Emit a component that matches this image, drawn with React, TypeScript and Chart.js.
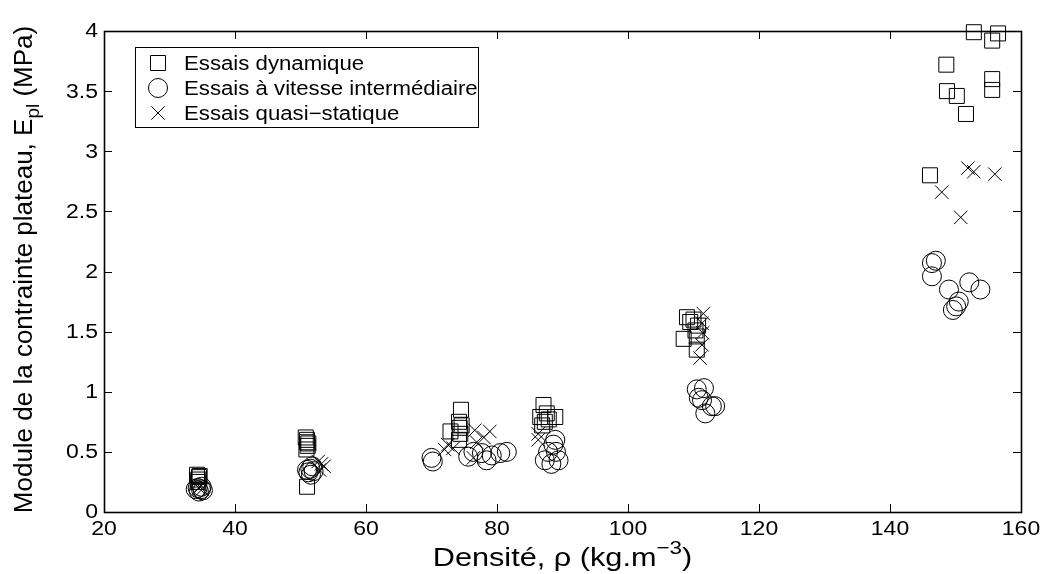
import React, { useEffect, useRef } from "react";
import { Chart, registerables } from "chart.js";

Chart.register(...registerables);

const xTicks = [20, 40, 60, 80, 100, 120, 140, 160];
const yTicks = [0, 0.5, 1, 1.5, 2, 2.5, 3, 3.5, 4];

const legendLabels = ["Essais dynamique", "Essais à vitesse intermédiaire", "Essais quasi\u2212statique"];

const dynX = [34.2, 34.5, 34.4, 34.6, 34.3, 50.8, 51.0, 51.1, 50.9, 51.0, 51.2, 51.0, 74.5, 74.2, 74.3, 72.9, 74.4, 74.2, 74.6, 87.1, 87.6, 88.9, 86.6, 87.3, 87.9, 86.9, 109.0, 110.0, 110.7, 108.5, 110.5, 110.5, 110.3, 109.5, 146.1, 148.6, 148.7, 150.2, 151.6, 152.8, 155.6, 156.5, 155.6, 155.6];
const dynY = [0.31, 0.29, 0.27, 0.30, 0.25, 0.62, 0.58, 0.55, 0.52, 0.60, 0.57, 0.21, 0.85, 0.75, 0.70, 0.67, 0.65, 0.60, 0.72, 0.89, 0.82, 0.79, 0.79, 0.75, 0.77, 0.72, 1.62, 1.60, 1.55, 1.44, 1.46, 1.35, 1.51, 1.58, 2.80, 3.72, 3.50, 3.46, 3.31, 3.99, 3.92, 3.98, 3.60, 3.51];

const intX = [34.3, 34.8, 35.1, 34.5, 34.0, 34.9, 51.5, 51.2, 51.8, 51.0, 51.6, 52.0, 70.0, 70.2, 75.6, 76.4, 77.7, 79.2, 80.5, 81.5, 78.4, 88.9, 88.6, 87.8, 87.3, 89.4, 88.3, 89.0, 110.5, 111.6, 111.3, 112.8, 113.3, 111.8, 110.8, 147.0, 146.4, 146.4, 149.0, 152.1, 153.8, 150.5, 150.1, 149.6];
const intY = [0.20, 0.19, 0.18, 0.17, 0.19, 0.21, 0.36, 0.33, 0.38, 0.35, 0.31, 0.34, 0.45, 0.42, 0.46, 0.50, 0.49, 0.47, 0.49, 0.50, 0.43, 0.60, 0.56, 0.50, 0.43, 0.43, 0.40, 0.50, 1.02, 1.03, 0.93, 0.88, 0.88, 0.82, 0.95, 2.09, 2.07, 1.96, 1.85, 1.91, 1.85, 1.75, 1.71, 1.68];

const qsX = [34.5, 34.8, 35.0, 52.7, 53.2, 53.6, 52.9, 72.5, 73.3, 72.0, 76.6, 78.9, 76.9, 76.4, 78.0, 86.3, 86.3, 111.5, 111.3, 111.4, 111.3, 111.0, 147.9, 150.8, 151.9, 152.8, 156.0];
const qsY = [0.20, 0.22, 0.19, 0.42, 0.40, 0.38, 0.35, 0.56, 0.53, 0.52, 0.68, 0.67, 0.58, 0.45, 0.62, 0.65, 0.60, 1.65, 1.57, 1.49, 1.39, 1.28, 2.66, 2.45, 2.86, 2.83, 2.81];

const FONT = "'Liberation Sans', Arial, Helvetica, sans-serif";

function pts(xs: number[], ys: number[]) {
  return xs.map((x, i) => ({ x, y: ys[i] }));
}

function drawMarker(ctx: CanvasRenderingContext2D, style: string, x: number, y: number) {
  ctx.beginPath();
  if (style === "rect") {
    ctx.rect(x - 7.5, y - 7.5, 15, 15);
  } else if (style === "circle") {
    ctx.arc(x, y, 9.5, 0, Math.PI * 2);
  } else {
    const o = 6.7;
    ctx.moveTo(x - o, y - o);
    ctx.lineTo(x + o, y + o);
    ctx.moveTo(x - o, y + o);
    ctx.lineTo(x + o, y - o);
  }
  ctx.stroke();
}

function text(ctx: CanvasRenderingContext2D, s: string, x: number, y: number, size: number, stretch: number, align: CanvasTextAlign, baseline: CanvasTextBaseline) {
  ctx.save();
  ctx.font = `${size}px ${FONT}`;
  ctx.textAlign = align;
  ctx.textBaseline = baseline;
  ctx.translate(x, y);
  ctx.scale(stretch, 1);
  ctx.fillText(s, 0, 0);
  ctx.restore();
}

function width(ctx: CanvasRenderingContext2D, s: string, size: number) {
  ctx.font = `${size}px ${FONT}`;
  return ctx.measureText(s).width;
}

const decorPlugin = {
  id: "decor",
  afterDraw(chart: any) {
    const ctx: CanvasRenderingContext2D = chart.ctx;
    const { left, right, top, bottom } = chart.chartArea;
    const xs = chart.scales.x;
    const ys = chart.scales.y;
    ctx.save();
    ctx.strokeStyle = "#000";
    ctx.fillStyle = "#000";
    ctx.lineWidth = 1;
    const tl = 8;
    ctx.beginPath();
    xTicks.forEach((v) => {
      const px = Math.round(xs.getPixelForValue(v)) + 0.5;
      ctx.moveTo(px, bottom);
      ctx.lineTo(px, bottom - tl);
      ctx.moveTo(px, top);
      ctx.lineTo(px, top + tl);
    });
    yTicks.forEach((v) => {
      const py = Math.round(ys.getPixelForValue(v)) + 0.5;
      ctx.moveTo(left, py);
      ctx.lineTo(left + tl, py);
      ctx.moveTo(right, py);
      ctx.lineTo(right - tl, py);
    });
    ctx.stroke();
    ctx.lineWidth = 1.6;
    ctx.strokeRect(Math.round(left) + 0.5, Math.round(top) + 0.5, Math.round(right - left), Math.round(bottom - top));

    // tick labels
    xTicks.forEach((v) => {
      text(ctx, String(v), xs.getPixelForValue(v), 530, 19.5, 1.18, "center", "middle");
    });
    yTicks.forEach((v) => {
      text(ctx, String(v), left - 6, ys.getPixelForValue(v) + 1, 19.5, 1.18, "right", "middle");
    });

    // legend
    ctx.lineWidth = 1;
    ctx.fillStyle = "#fff";
    ctx.fillRect(135, 47, 343, 80);
    ctx.strokeRect(135.5, 47.5, 343, 80);
    ctx.fillStyle = "#000";
    const styles = ["rect", "circle", "cross"];
    const rows = [63, 88, 113];
    styles.forEach((s, i) => {
      drawMarker(ctx, s, 158, rows[i]);
      text(ctx, legendLabels[i], 184, rows[i] + 1, 20, 1.11, "left", "middle");
    });

    // x title
    const st = 1.18;
    const p1 = "Densité, ρ (kg.m";
    const p2 = "\u22123";
    const p3 = ")";
    const w1 = width(ctx, p1, 26) * st;
    const w2 = width(ctx, p2, 19) * st;
    const w3 = width(ctx, p3, 26) * st;
    const sx = (left + right) / 2 - (w1 + w2 + w3) / 2;
    const by = 566;
    text(ctx, p1, sx, by, 26, st, "left", "alphabetic");
    text(ctx, p2, sx + w1, by - 12, 19, st, "left", "alphabetic");
    text(ctx, p3, sx + w1 + w2, by, 26, st, "left", "alphabetic");

    // y title
    const q1 = "Module de la contrainte plateau, E";
    const q2 = "pl";
    const q3 = " (MPa)";
    const v1 = width(ctx, q1, 26);
    const v2 = width(ctx, q2, 19);
    const v3 = width(ctx, q3, 26);
    const tot = v1 + v2 + v3;
    ctx.save();
    ctx.translate(32, (top + bottom) / 2 - 2);
    ctx.rotate(-Math.PI / 2);
    ctx.textBaseline = "alphabetic";
    ctx.textAlign = "left";
    const tx = -tot / 2;
    ctx.font = `26px ${FONT}`;
    ctx.fillText(q1, tx, 0);
    ctx.font = `19px ${FONT}`;
    ctx.fillText(q2, tx + v1, 7);
    ctx.font = `26px ${FONT}`;
    ctx.fillText(q3, tx + v1 + v2, 0);
    ctx.restore();
    ctx.restore();
  },
};

export default function App() {
  const ref = useRef<HTMLCanvasElement>(null);
  useEffect(() => {
    document.body.style.margin = "0";
    const common = {
      borderColor: "#000",
      backgroundColor: "rgba(0,0,0,0)",
      borderWidth: 1,
      showLine: false,
      clip: false as any,
    };
    const chart = new Chart(ref.current!, {
      type: "scatter",
      data: {
        datasets: [
          { ...common, label: legendLabels[0], data: pts(dynX, dynY), pointStyle: "rect", pointRadius: 10.6 },
          { ...common, label: legendLabels[1], data: pts(intX, intY), pointStyle: "circle", pointRadius: 9.5 },
          { ...common, label: legendLabels[2], data: pts(qsX, qsY), pointStyle: "crossRot", pointRadius: 9.5 },
        ],
      },
      options: {
        animation: false,
        responsive: true,
        maintainAspectRatio: false,
        layout: { padding: { left: 0, top: 31, right: 21, bottom: 0 } },
        plugins: { legend: { display: false }, tooltip: { enabled: false } },
        scales: {
          x: {
            type: "linear",
            min: 20,
            max: 160,
            grid: { display: false },
            border: { display: false },
            ticks: { display: false, stepSize: 20 },
            afterFit: (s: any) => { s.height = 62; },
          },
          y: {
            type: "linear",
            min: 0,
            max: 4,
            grid: { display: false },
            border: { display: false },
            ticks: { display: false, stepSize: 0.5 },
            afterFit: (s: any) => { s.width = 104; },
          },
        },
      },
      plugins: [decorPlugin],
    });
    return () => chart.destroy();
  }, []);
  return (
    <div style={{ position: "fixed", left: 0, top: 0, width: 1042, height: 574, background: "#fff" }}>
      <canvas ref={ref} />
    </div>
  );
}
